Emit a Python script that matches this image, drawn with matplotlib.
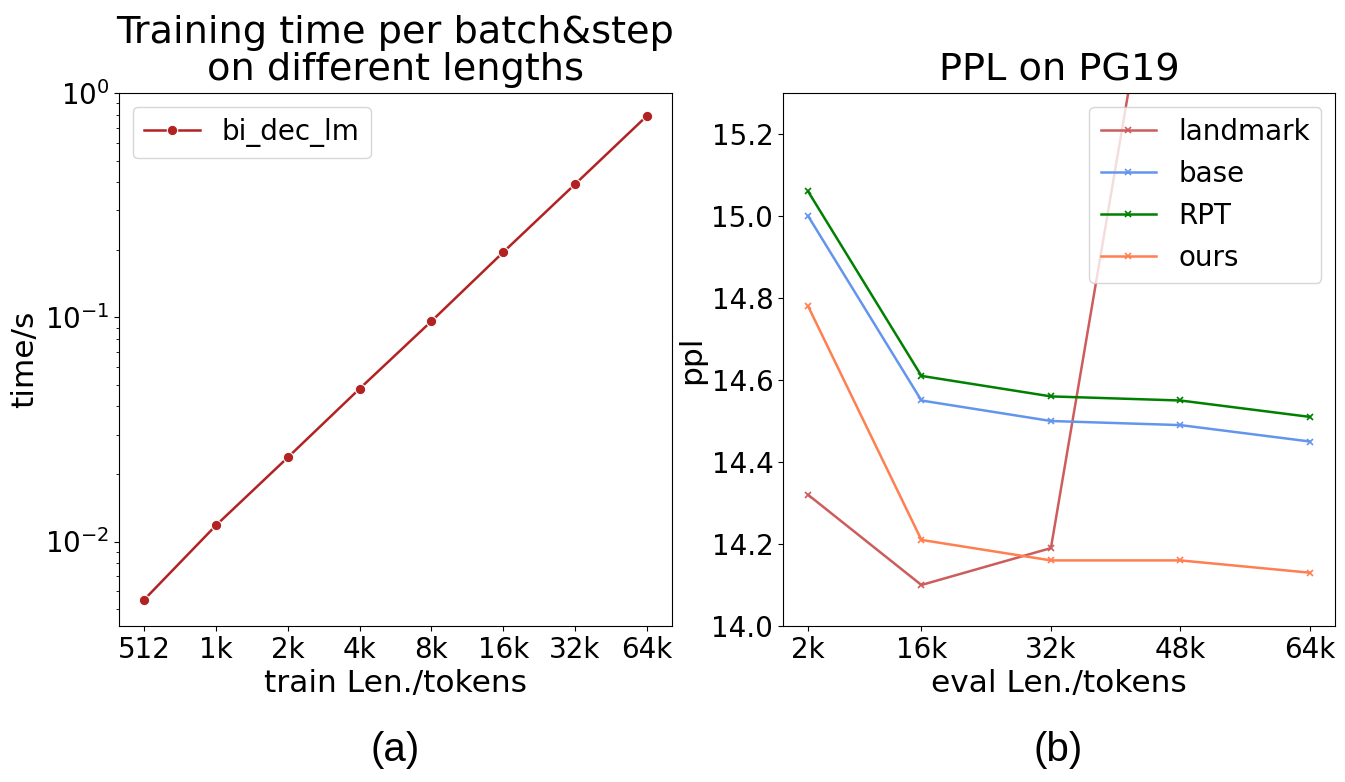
import numpy as np
import matplotlib
matplotlib.use("Agg")
import matplotlib.pyplot as plt

# (a) training time per batch & step
train_len = [512, 1024, 2048, 4096, 8192, 16384, 32768, 65536]
train_labels = ["512", "1k", "2k", "4k", "8k", "16k", "32k", "64k"]
time_s = [0.0055, 0.0118, 0.0237, 0.048, 0.096, 0.195, 0.392, 0.79]

# (b) PPL on PG19
eval_len = [2000, 16000, 32000, 48000, 64000]
eval_labels = ["2k", "16k", "32k", "48k", "64k"]
ppl_landmark = [14.32, 14.10, 14.19, 16.05, 17.9]
ppl_base = [15.00, 14.55, 14.50, 14.49, 14.45]
ppl_rpt = [15.06, 14.61, 14.56, 14.55, 14.51]
ppl_ours = [14.78, 14.21, 14.16, 14.16, 14.13]

fig = plt.figure(figsize=(13.45, 7.82), dpi=100)
ax1 = fig.add_axes([119 / 1345, 1 - 626 / 782, 553 / 1345, 533 / 782])
ax2 = fig.add_axes([783 / 1345, 1 - 626 / 782, 552 / 1345, 533 / 782])

tick_fs = 20
lab_fs = 22.5

ax1.plot(train_len, time_s, color="#B22222", marker="o", markersize=7.5,
         markeredgecolor="white", markeredgewidth=0.8, linewidth=1.8, label="bi_dec_lm")
ax1.set_xscale("log", base=2)
ax1.set_yscale("log")
ax1.set_xticks(train_len)
ax1.set_xticklabels(train_labels)
ax1.minorticks_off()
ax1.set_yticks([1e-2, 1e-1, 1e0])
ax1.yaxis.set_minor_locator(matplotlib.ticker.LogLocator(base=10, subs=np.arange(2, 10)))
ax1.yaxis.set_minor_formatter(matplotlib.ticker.NullFormatter())
ax1.set_ylim(0.0042, 1.0)
ax1.tick_params(labelsize=tick_fs)
ax1.set_xlabel("train Len./tokens", fontsize=lab_fs)
ax1.set_ylabel("time/s", fontsize=lab_fs)
ax1.set_title("Training time per batch&step\non different lengths", fontsize=27.5,
              linespacing=1.05, pad=9)
ax1.legend(loc="upper left", fontsize=20, handlelength=2)

series = [("landmark", ppl_landmark, "#CD5C5C"),
          ("base", ppl_base, "#6495ED"),
          ("RPT", ppl_rpt, "#008000"),
          ("ours", ppl_ours, "#FF7F50")]
for name, vals, c in series:
    ax2.plot(eval_len, vals, color=c, marker="x", markersize=5, markeredgewidth=1.2,
             linewidth=1.8, label=name)
ax2.set_xticks(eval_len)
ax2.set_xticklabels(eval_labels)
ax2.set_ylim(14.0, 15.3)
ax2.set_yticks([14.0, 14.2, 14.4, 14.6, 14.8, 15.0, 15.2])
ax2.tick_params(labelsize=tick_fs)
ax2.set_xlabel("eval Len./tokens", fontsize=lab_fs)
ax2.set_ylabel("ppl", fontsize=lab_fs)
ax2.set_title("PPL on PG19", fontsize=27.5, pad=9)
ax2.legend(loc="upper right", fontsize=20, handlelength=2)

fig.text(395 / 1345, 1 - 750 / 782, "(a)", fontsize=29, family="Liberation Sans", ha="center", va="center")
fig.text(1058 / 1345, 1 - 750 / 782, "(b)", fontsize=29, family="Liberation Sans", ha="center", va="center")

fig.savefig("out.png", dpi=100)
